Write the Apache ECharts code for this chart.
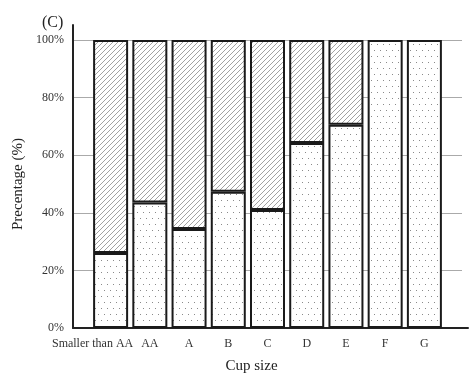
<!DOCTYPE html>
<html><head><meta charset="utf-8">
<script src="https://cdn.jsdelivr.net/npm/echarts@6/dist/echarts.min.js"></script>
<style>html,body{margin:0;padding:0;background:#fff}#c{width:469px;height:383px}</style>
</head><body><div id="c"></div>
<script>
const categories = ['Smaller than AA','AA','A','B','C','D','E','F','G'];
const lowerValues = [26, 43.6, 34.4, 47.3, 41, 64.2, 70.6, 100, 100];
const upperValues = [74, 56.4, 65.6, 52.7, 59, 35.8, 29.4, null, null];
const yTicks = [0, 20, 40, 60, 80, 100];

function hatchPattern(){
  const c = document.createElement('canvas'); c.width = 5; c.height = 5;
  const g = c.getContext('2d');
  g.fillStyle = '#fff'; g.fillRect(0,0,5,5);
  g.strokeStyle = '#7a7a7a'; g.lineWidth = 0.7;
  g.beginPath();
  g.moveTo(-1,6); g.lineTo(6,-1);
  g.moveTo(-1,1); g.lineTo(1,-1);
  g.moveTo(4,6); g.lineTo(6,4);
  g.stroke();
  return c;
}
function dotPattern(){
  const c = document.createElement('canvas'); c.width = 12; c.height = 12;
  const g = c.getContext('2d');
  g.fillStyle = '#fff'; g.fillRect(0,0,12,12);
  g.fillStyle = '#8a8a8a';
  g.fillRect(2,2,1,1); g.fillRect(8,2,1,1);
  g.fillRect(5,8,1,1); g.fillRect(11,8,1,1);
  return c;
}
const font = 'Liberation Serif, Times New Roman, serif';
const chart = echarts.init(document.getElementById('c'), null, {renderer:'canvas'});
chart.setOption({
  animation:false,
  title:{text:'(C)', left:37, top:10, textStyle:{fontFamily:font, fontSize:16, fontWeight:'normal', color:'#222'}},
  grid:[
    {left:73, right:7, top:40, bottom:55},
    {left:91, right:25, top:40, bottom:55},
    {left:73, right:1, top:25, bottom:55}
  ],
  xAxis:[
    {gridIndex:0, type:'value', min:0, max:1, show:false},
    {gridIndex:1, type:'category',
     data: categories.map((c,i)=> i===0 ? {value:c, textStyle:{padding:[0,36,0,0]}} : c),
     axisLine:{show:false}, axisTick:{show:false},
     axisLabel:{margin:10, fontFamily:font, fontSize:12, color:'#333', interval:0}},
    {gridIndex:2, type:'value', min:0, max:1,
     axisLine:{show:true, lineStyle:{color:'#222', width:2}},
     axisTick:{show:false}, axisLabel:{show:false}, splitLine:{show:false},
     name:'Cup size', nameLocation:'middle', nameGap:31,
     nameTextStyle:{fontFamily:font, fontSize:15, color:'#222', padding:[0,38,0,0]}}
  ],
  yAxis:[
    {gridIndex:0, type:'value', min:0, max:100, interval:20,
     axisLine:{show:false}, axisTick:{show:false},
     axisLabel:{margin:9, fontFamily:font, fontSize:12, color:'#333', formatter:v=> yTicks.includes(v) ? v+'%' : ''},
     splitLine:{show:true, lineStyle:{color:'#aaa', width:1.2}},
     name:'Precentage (%)', nameLocation:'middle', nameGap:46,
     nameTextStyle:{fontFamily:font, fontSize:15, color:'#222', padding:[0,0,0,0]}},
    {gridIndex:1, type:'value', min:0, max:100, show:false},
    {gridIndex:2, type:'value', min:0, max:1,
     axisLine:{show:true, lineStyle:{color:'#222', width:2}},
     axisTick:{show:false}, axisLabel:{show:false}, splitLine:{show:false}}
  ],
  series:[
    {type:'bar', xAxisIndex:1, yAxisIndex:1, stack:'s', barWidth:35, data:lowerValues,
     itemStyle:{color:{image:dotPattern(), repeat:'repeat'}, borderColor:'#1a1a1a', borderWidth:2}},
    {type:'bar', xAxisIndex:1, yAxisIndex:1, stack:'s', barWidth:35, data:upperValues,
     itemStyle:{color:{image:hatchPattern(), repeat:'repeat'}, borderColor:'#1a1a1a', borderWidth:2}}
  ]
});
</script></body></html>
